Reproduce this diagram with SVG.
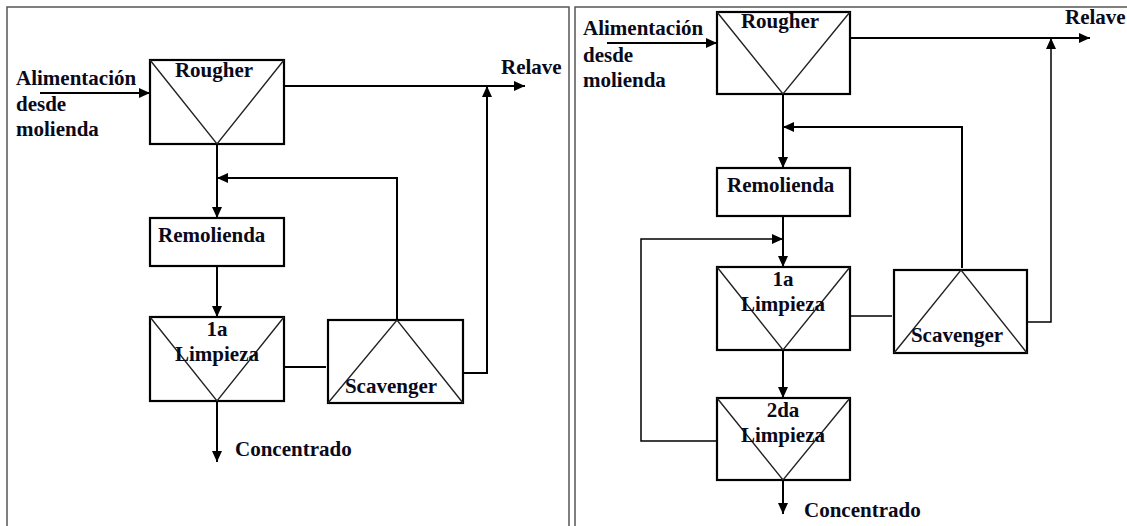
<svg xmlns="http://www.w3.org/2000/svg" width="1127" height="526" viewBox="0 0 1127 526">
<style>
.frame{fill:none;stroke:#555;stroke-width:1.5}
.box{fill:#fff;stroke:#000;stroke-width:2.2}
.tri{fill:none;stroke:#222;stroke-width:1.4}
.conn{fill:none;stroke:#000;stroke-width:2}
.thin{fill:none;stroke:#000;stroke-width:1.5}
text{font-family:"Liberation Serif","Times New Roman",serif;font-weight:bold;font-size:21px;fill:#0a0a1a}
.c{text-anchor:middle}
</style>
<defs>
<marker id="ah" markerUnits="userSpaceOnUse" markerWidth="12" markerHeight="10" refX="11" refY="5" orient="auto">
<path d="M0,0 L11,5 L0,10 Z" fill="#000"/>
</marker>
</defs>
<rect width="1127" height="526" fill="#fff"/>
<g id="frames">
<path class="frame" d="M7,530 V7 H569 V530"/>
<path class="frame" d="M575,530 V7 H1130"/>
</g>

<!-- LEFT PANEL -->
<g id="L-feed-label">
<text x="16" y="85">Alimentación</text>
<text x="16" y="111">desde</text>
<text x="16" y="136">molienda</text>
</g>
<g id="L-rougher">
<rect class="box" x="150" y="60" width="134" height="84"/>
<path class="tri" d="M150,60 L217,144 L284,60"/>
<text class="c" x="214" y="77">Rougher</text>
</g>
<g id="L-remolienda">
<rect class="box" x="150" y="218" width="134" height="48"/>
<text x="158" y="242">Remolienda</text>
</g>
<g id="L-limpieza1">
<rect class="box" x="150" y="317" width="134" height="84"/>
<path class="tri" d="M150,317 L217,401 L284,317"/>
<text class="c" x="217" y="336">1a</text>
<text class="c" x="217" y="361">Limpieza</text>
</g>
<g id="L-scavenger">
<rect class="box" x="328" y="320" width="135" height="83"/>
<path class="tri" d="M328,403 L397,320 L463,403"/>
<text class="c" x="391" y="393">Scavenger</text>
</g>
<g id="L-relave"><text x="501" y="74">Relave</text></g>
<g id="L-conc"><text x="235" y="456">Concentrado</text></g>

<g id="L-connectors">
<line class="conn" x1="40" y1="93" x2="150" y2="93" marker-end="url(#ah)"/>
<line class="conn" x1="284" y1="86" x2="525" y2="86" marker-end="url(#ah)"/>
<line class="conn" x1="217" y1="144" x2="217" y2="218" marker-end="url(#ah)"/>
<polyline class="conn" points="397,320 397,178 217,178" marker-end="url(#ah)"/>
<line class="conn" x1="217" y1="266" x2="217" y2="317" marker-end="url(#ah)"/>
<line class="conn" x1="284" y1="367" x2="326" y2="367"/>
<polyline class="conn" points="463,373 487,373 487,86" marker-end="url(#ah)"/>
<line class="conn" x1="217" y1="401" x2="217" y2="462" marker-end="url(#ah)"/>
</g>

<!-- RIGHT PANEL -->
<g id="R-feed-label">
<text x="583" y="35">Alimentación</text>
<text x="583" y="62">desde</text>
<text x="583" y="87">molienda</text>
</g>
<g id="R-rougher">
<rect class="box" x="717" y="12" width="133" height="82"/>
<path class="tri" d="M717,12 L783,94 L850,12"/>
<text class="c" x="780" y="28">Rougher</text>
</g>
<g id="R-remolienda">
<rect class="box" x="717" y="168" width="133" height="48"/>
<text x="727" y="192">Remolienda</text>
</g>
<g id="R-limpieza1">
<rect class="box" x="717" y="267" width="133" height="83"/>
<path class="tri" d="M717,267 L783,350 L850,267"/>
<text class="c" x="783" y="286">1a</text>
<text class="c" x="783" y="311">Limpieza</text>
</g>
<g id="R-scavenger">
<rect class="box" x="894" y="270" width="133" height="83"/>
<path class="tri" d="M894,353 L961,270 L1027,353"/>
<text class="c" x="957" y="342">Scavenger</text>
</g>
<g id="R-limpieza2">
<rect class="box" x="717" y="398" width="133" height="82"/>
<path class="tri" d="M717,398 L783,480 L850,398"/>
<text class="c" x="783" y="417">2da</text>
<text class="c" x="783" y="442">Limpieza</text>
</g>
<g id="R-relave"><text x="1065" y="24">Relave</text></g>
<g id="R-conc"><text x="804" y="517">Concentrado</text></g>

<g id="R-connectors">
<line class="conn" x1="607" y1="43" x2="717" y2="43" marker-end="url(#ah)"/>
<line class="conn" x1="850" y1="38" x2="1090" y2="38" marker-end="url(#ah)"/>
<line class="conn" x1="783" y1="94" x2="783" y2="168" marker-end="url(#ah)"/>
<polyline class="conn" points="962,268 962,127 783,127" marker-end="url(#ah)"/>
<line class="conn" x1="783" y1="216" x2="783" y2="267" marker-end="url(#ah)"/>
<polyline class="thin" points="717,441 641,441 641,239 783,239" marker-end="url(#ah)"/>
<line class="thin" x1="850" y1="316" x2="892" y2="316"/>
<polyline class="thin" points="1027,322 1051,322 1051,38" marker-end="url(#ah)"/>
<line class="conn" x1="783" y1="350" x2="783" y2="398" marker-end="url(#ah)"/>
<line class="conn" x1="783" y1="480" x2="783" y2="514" marker-end="url(#ah)"/>
</g>
</svg>
